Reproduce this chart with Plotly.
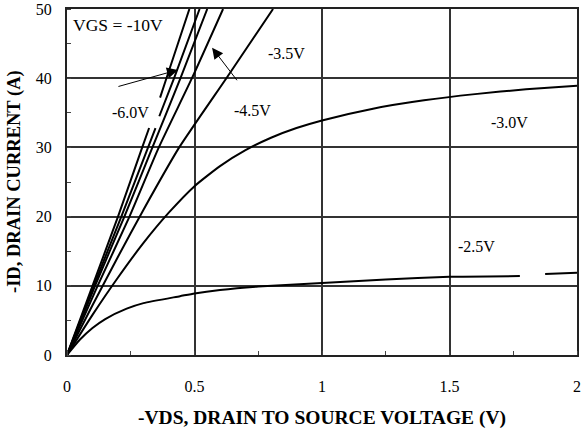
import plotly.graph_objects as go

# -VDS (V) and -ID (A) for each gate voltage curve (None = gap in the printed trace)
vds_10 = [0, 0.10, 0.20, 0.295, 0.322, None, 0.365, 0.39, 0.48]
id_10 = [0, 10, 20, 30, 32.8, None, 37.2, 40, 50]

vds_6 = [0, 0.105, 0.213, 0.318, 0.347, None, 0.362, 0.42, 0.52]
id_6 = [0, 10, 20, 30, 32.8, None, 34.5, 40, 50]

vds_5 = [0, 0.11, 0.225, 0.335, 0.445, 0.55]
id_5 = [0, 10, 20, 30, 40, 50]

vds_45 = [0, 0.12, 0.245, 0.36, 0.49, 0.612]
id_45 = [0, 10, 20, 30, 40, 50]

vds_35 = [0, 0.10, 0.20, 0.30, 0.44, 0.625, 0.808]
id_35 = [0, 7.2, 14.2, 21, 30, 40, 50]

vds_30 = [0, 0.1, 0.2, 0.3, 0.4, 0.5, 0.6, 0.7, 0.8, 0.9, 1.0, 1.2, 1.4, 1.6, 1.8, 2.0]
id_30 = [0, 5.8, 11.2, 16.2, 20.6, 24.4, 27.3, 29.6, 31.4, 32.8, 33.9, 35.6, 36.8, 37.7, 38.4, 38.9]

vds_25 = [0, 0.05, 0.1, 0.15, 0.234, 0.3, 0.443, 0.5, 0.6, 0.75, 1.0, 1.25, 1.5, 1.776, None, 1.875, 2.0]
id_25 = [0, 2.2, 3.9, 5.2, 6.7, 7.5, 8.5, 8.9, 9.4, 9.9, 10.4, 10.9, 11.3, 11.4, None, 11.7, 11.9]

x_ticks = [0, 0.5, 1, 1.5, 2]
x_tick_text = ["0", "0.5", "1", "1.5", "2"]
y_ticks = [0, 10, 20, 30, 40, 50]

series = [
    (vds_10, id_10), (vds_6, id_6), (vds_5, id_5), (vds_45, id_45),
    (vds_35, id_35), (vds_30, id_30), (vds_25, id_25),
]

FONT = "Liberation Serif"

fig = go.Figure()
for xs, ys in series:
    fig.add_trace(go.Scatter(
        x=xs, y=ys, mode="lines",
        line=dict(color="black", width=2, shape="spline", smoothing=0.5),
        connectgaps=False, showlegend=False, hoverinfo="skip",
    ))

axis_common = dict(
    showline=True, mirror=True, linecolor="#222", linewidth=2,
    showgrid=True, gridcolor="#333", gridwidth=1.5,
    zeroline=False, ticks="", automargin=False,
    tickfont=dict(family=FONT, size=16, color="black"),
)

fig.update_xaxes(
    range=[0, 2], tickvals=x_ticks, ticktext=x_tick_text,
    ticklabelstandoff=16,
    minor=dict(ticks="inside", dtick=0.25, tick0=0, ticklen=4, tickcolor="#444", showgrid=False),
    **axis_common,
)
fig.update_yaxes(
    range=[0, 50], tickvals=y_ticks,
    ticklabelstandoff=10,
    minor=dict(ticks="inside", dtick=5, tick0=0, ticklen=4, tickcolor="#444", showgrid=False),
    **axis_common,
)

tf = dict(family=FONT, size=16, color="black")
PW, PH = 510, 346
def px(x):
    return (x - 67) / PW
def py(y):
    return (355 - y) / PH

ann = [
    dict(x=px(71), y=py(25), xref="paper", yref="paper", text="VGS = -10V",
         showarrow=False, xanchor="left", yanchor="middle",
         font=dict(family=FONT, size=17.5, color="black")),
    dict(x=px(110), y=py(102), xref="paper", yref="paper", text="-6.0V", showarrow=False, font=tf),
    dict(x=px(252), y=py(100), xref="paper", yref="paper", text="-4.5V", showarrow=False, font=tf),
    dict(x=px(286), y=py(43), xref="paper", yref="paper", text="-3.5V", showarrow=False, font=tf),
    dict(x=px(530), y=py(112), xref="paper", yref="paper", text="-3.0V", showarrow=False, font=tf),
    dict(x=px(497), y=py(257), xref="paper", yref="paper", text="-2.5V", showarrow=False, font=tf),
    # arrows
    dict(x=0.435, y=41.2, xref="x", yref="y", text="", showarrow=True,
         ax=-61, ay=17, arrowhead=2, arrowsize=2.2, arrowwidth=1, arrowcolor="black"),
    dict(x=0.569, y=44.4, xref="x", yref="y", text="", showarrow=True,
         ax=26, ay=34, arrowhead=2, arrowsize=2.2, arrowwidth=1, arrowcolor="black"),
    # axis titles
    dict(x=0.5, y=py(418), xref="paper", yref="paper",
         text="<b>-VDS, DRAIN TO SOURCE VOLTAGE (V)</b>", showarrow=False,
         xanchor="center", yanchor="middle", font=dict(family=FONT, size=19.5, color="black")),
    dict(x=px(14), y=py(182), xref="paper", yref="paper",
         text="<b>-ID, DRAIN CURRENT (A)</b>", showarrow=False, textangle=-90,
         xanchor="center", yanchor="middle", font=dict(family=FONT, size=18.5, color="black")),
]

fig.update_layout(
    width=582, height=436,
    margin=dict(l=67, r=5, t=9, b=81),
    paper_bgcolor="white", plot_bgcolor="white",
    annotations=ann,
    showlegend=False,
)

fig.write_html("out.html")
